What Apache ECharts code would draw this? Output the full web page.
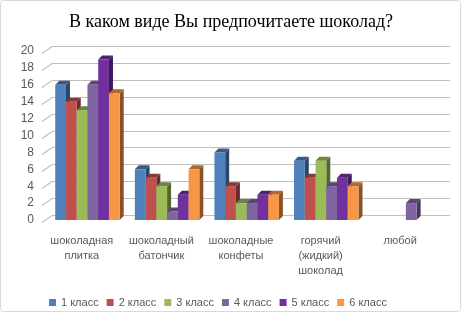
<!DOCTYPE html>
<html>
<head>
<meta charset="utf-8">
<script src="https://cdn.jsdelivr.net/npm/echarts@6/dist/echarts.min.js"></script>
<style>
  html, body { margin: 0; padding: 0; background: #fff; }
  #chart { width: 462px; height: 314px; }
</style>
</head>
<body>
<div id="chart"></div>
<script>
// категории и значения
var categories = ['шоколадная\nплитка', 'шоколадный\nбатончик', 'шоколадные\nконфеты', 'горячий\n(жидкий)\nшоколад', 'любой']
var seriesNames = ['1 класс', '2 класс', '3 класс', '4 класс', '5 класс', '6 класс']
var class1 = [16, 6, 8, 7, 0]
var class2 = [14, 5, 4, 5, 0]
var class3 = [13, 4, 2, 7, 0]
var class4 = [16, 1, 2, 4, 2]
var class5 = [19, 3, 3, 5, 0]
var class6 = [15, 6, 3, 4, 0]
var yTicks = [0, 2, 4, 6, 8, 10, 12, 14, 16, 18, 20]

var colors = ['#4F81BD', '#C0504D', '#9BBB59', '#8064A2', '#7030A0', '#F79646']
var allData = [class1, class2, class3, class4, class5, class6]

function shade(hex, k) {
  var n = parseInt(hex.slice(1), 16)
  var r = Math.round(((n >> 16) & 255) * k)
  var g = Math.round(((n >> 8) & 255) * k)
  var b = Math.round((n & 255) * k)
  return 'rgb(' + r + ',' + g + ',' + b + ')'
}

// сетка: косой отрезок на боковой стенке и линия на задней
function gridLines(api) {
  var band = api.size([1, 0])[0]
  var out = []
  yTicks.forEach(function(t) {
    var p = api.coord([0, t])
    var x0 = Math.round(p[0] - band / 2)
    var x1 = Math.round(x0 + band * categories.length)
    var y = Math.round(p[1]) + 0.5
    out.push({ type: 'polyline', shape: { points: [[x0, y + 2], [x0 + 10, y - 5], [x1 + 10, y - 5]] }, style: { stroke: '#BFBFBF', lineWidth: 1.2, fill: null } })
  })
  return out
}

// 3D столбик: передняя грань, бок и верх
function barRenderer(si) {
  return function(params, api) {
    var children = []
    if (si === 0 && params.dataIndex === 0) children = gridLines(api)
    var idx = api.value(0)
    var val = api.value(1)
    if (val) {
      var top = api.coord([idx, val])
      var base = api.coord([idx, 0])
      var band = api.size([1, 0])[0]
      var k = band / 80
      var w = 10.8 * k
      var x = top[0] - band / 2 + 13.3 * k + si * w
      var y = top[1]
      var y0 = base[1]
      var d = 4
      var c = colors[si]
      children.push(
        { type: 'polygon', shape: { points: [[x + w, y], [x + w + d, y - d], [x + w + d, y0 - d], [x + w, y0]] }, style: { fill: shade(c, 0.55) } },
        { type: 'polygon', shape: { points: [[x, y], [x + d, y - d], [x + w + d, y - d], [x + w, y]] }, style: { fill: shade(c, 0.7) } },
        { type: 'rect', shape: { x: x, y: y, width: w, height: y0 - y }, style: { fill: c } }
      )
    }
    return { type: 'group', children: children }
  }
}

var series = []
seriesNames.forEach(function(name, i) {
  series.push({
    type: 'custom',
    name: name,
    renderItem: barRenderer(i),
    itemStyle: { color: colors[i] },
    data: allData[i].map(function(v, j) { return [j, v] })
  })
})

var labelFont = { fontFamily: 'Liberation Sans', color: '#595959' }

var option = {
  animation: false,
  color: colors,
  title: {
    text: 'В каком виде Вы предпочитаете шоколад?',
    left: 'center',
    top: 8,
    textStyle: { fontFamily: 'Liberation Serif', fontSize: 18, fontWeight: 'normal', color: '#000' }
  },
  graphic: [{
    type: 'rect',
    z: 100,
    shape: { x: 0.5, y: 0.5, width: 460, height: 311, r: 3 },
    style: { fill: 'transparent', stroke: '#D9D9D9', lineWidth: 1 },
    silent: true
  }],
  legend: {
    data: seriesNames,
    left: 44,
    top: 292,
    icon: 'rect',
    itemWidth: 7,
    itemHeight: 7,
    itemGap: 8,
    textStyle: { fontFamily: 'Liberation Sans', fontSize: 11, color: '#595959', width: 44 }
  },
  grid: { left: 42, right: 22, top: 51, bottom: 94 },
  xAxis: {
    type: 'category',
    data: categories,
    axisLine: { show: false },
    axisTick: { show: false },
    axisLabel: Object.assign({ fontSize: 11, lineHeight: 15, margin: 13, interval: 0 }, labelFont)
  },
  yAxis: {
    type: 'value',
    min: 0,
    max: 20,
    interval: 2,
    axisLine: { show: false },
    axisTick: { show: false },
    splitLine: { show: false },
    axisLabel: Object.assign({ fontSize: 12, margin: 8, padding: [5, 0, 0, 0] }, labelFont)
  },
  series: series
}

var myChart = echarts.init(document.getElementById('chart'))
myChart.setOption(option)
</script>
</body>
</html>
